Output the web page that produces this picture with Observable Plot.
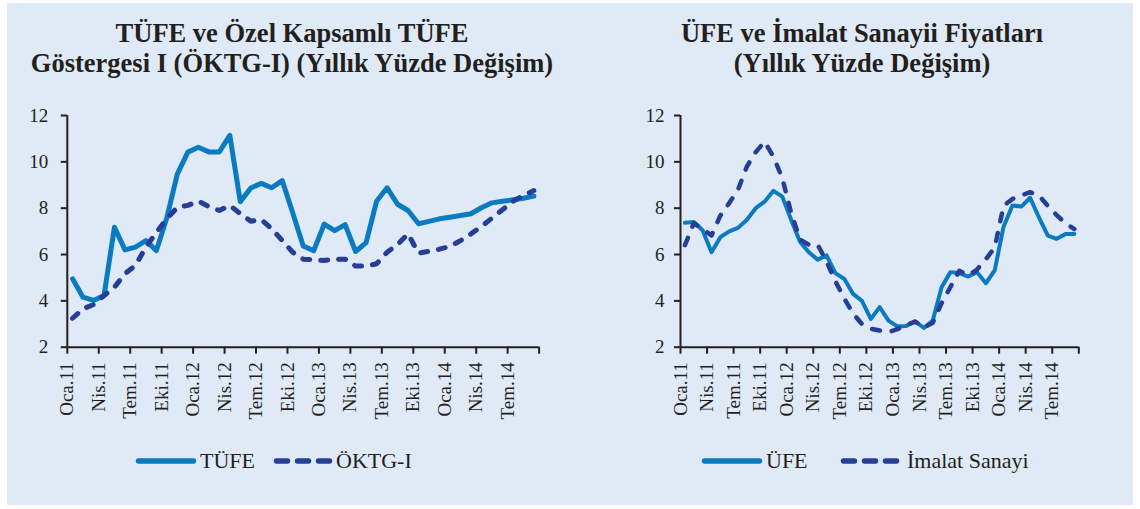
<!DOCTYPE html>
<html><head><meta charset="utf-8">
<script src="https://cdn.jsdelivr.net/npm/d3@7"></script>
<script src="https://cdn.jsdelivr.net/npm/@observablehq/plot@0.6"></script>
<style>
body{margin:0;background:#fff;width:1140px;height:509px;position:relative;overflow:hidden;font-family:"Liberation Serif",serif;color:#231f20}
#panel{position:absolute;left:7px;top:3px;width:1126px;height:502px;background:#dfeaf6}
.title{position:absolute;top:18px;font-weight:bold;font-size:26.5px;line-height:30px;text-align:center;white-space:nowrap}
.chart{position:absolute;top:100px}
.lg{position:absolute;top:450px;font-size:22px;line-height:22px;white-space:nowrap}
#legendsvg{position:absolute;left:0;top:0}
</style></head><body>
<div id="panel"></div>
<div class="title" style="left:0;width:584px">TÜFE ve Özel Kapsamlı TÜFE<br>Göstergesi I (ÖKTG-I) (Yıllık Yüzde Değişim)</div>
<div class="title" style="left:562px;width:600px">ÜFE ve İmalat Sanayii Fiyatları<br>(Yıllık Yüzde Değişim)</div>
<div id="c1" class="chart" style="left:0"></div>
<div id="c2" class="chart" style="left:600px"></div>
<svg id="legendsvg" width="1140" height="509"></svg>
<span class="lg" style="left:200px">TÜFE</span>
<span class="lg" style="left:336px">ÖKTG-I</span>
<span class="lg" style="left:766px">ÜFE</span>
<span class="lg" style="left:907px">İmalat Sanayi</span>
<script>
const months = ["Oca.11","Şub.11","Mar.11","Nis.11","May.11","Haz.11","Tem.11","Ağu.11","Eyl.11","Eki.11","Kas.11","Ara.11",
"Oca.12","Şub.12","Mar.12","Nis.12","May.12","Haz.12","Tem.12","Ağu.12","Eyl.12","Eki.12","Kas.12","Ara.12",
"Oca.13","Şub.13","Mar.13","Nis.13","May.13","Haz.13","Tem.13","Ağu.13","Eyl.13","Eki.13","Kas.13","Ara.13",
"Oca.14","Şub.14","Mar.14","Nis.14","May.14","Haz.14","Tem.14","Ağu.14","Eyl.14"];
const yTicks = [2,4,6,8,10,12];
const tufe = [4.95,4.16,4.02,4.23,7.18,6.2,6.32,6.6,6.17,7.6,9.48,10.42,10.63,10.43,10.43,11.14,8.28,8.87,9.07,8.88,9.19,7.8,6.37,6.16,7.31,7.03,7.29,6.13,6.51,8.3,8.88,8.17,7.9,7.33,7.43,7.54,7.61,7.68,7.76,8.02,8.23,8.3,8.36,8.43,8.52];
const oktg = [3.25,3.66,3.84,4.23,4.59,5.17,5.53,6.32,6.96,7.54,8.04,8.12,8.3,8.07,7.9,8.12,7.76,7.44,7.51,7.11,6.6,6.1,5.8,5.77,5.74,5.8,5.8,5.5,5.5,5.6,6.1,6.43,6.89,6.06,6.14,6.23,6.35,6.6,6.89,7.21,7.57,7.93,8.29,8.55,8.76];
const ufe = [7.37,7.4,7.05,6.1,6.75,7.0,7.15,7.5,8.0,8.28,8.75,8.5,7.5,6.55,6.1,5.78,5.96,5.2,4.95,4.3,4.0,3.22,3.73,3.15,2.9,2.92,3.12,2.83,3.15,4.59,5.24,5.2,5.05,5.24,4.76,5.32,7.2,8.12,8.07,8.45,7.6,6.82,6.68,6.89,6.89];
const imalat = [6.4,7.35,7.1,6.82,7.68,8.22,8.8,9.8,10.42,10.87,10.22,9.3,7.8,6.65,6.42,6.42,5.7,4.85,4.1,3.45,3.0,2.8,2.72,2.65,2.78,2.95,3.1,2.85,3.05,3.9,4.6,5.3,5.1,5.35,5.8,6.3,8.1,8.4,8.55,8.69,8.55,8.1,7.7,7.35,7.1];

const lightBlue = "#0a7bc1", navy = "#263e96", ink = "#231f20";

function chart({width, marginLeft, marginRight, padY, solid, dashed, solidW, dashW, dash}) {
  return Plot.plot({
    width, height: 330,
    marginLeft, marginRight, marginTop: 15, marginBottom: 83.3,
    style: {background: "transparent", fontFamily: "Liberation Serif, serif", fontSize: "19px", color: ink, overflow: "visible"},
    x: {domain: [0, months.length]},
    y: {domain: [2, 12]},
    marks: [
      Plot.axisY({ticks: yTicks, tickSize: 6, tickPadding: padY, tickFormat: d => String(d), label: null, strokeWidth: 2}),
      Plot.axisX({ticks: d3.range(0, months.length + 1, 3), tickSize: 7, tickPadding: 8, tickRotate: -90,
        tickFormat: t => months[t] ?? "", label: null, strokeWidth: 2}),
      Plot.ruleX([0], {stroke: ink, strokeWidth: 2}),
      Plot.ruleY([2], {stroke: ink, strokeWidth: 2}),
      Plot.lineY(solid, {x: (d, i) => i + 0.5, y: d => d, stroke: lightBlue, strokeWidth: solidW, strokeLinejoin: "round", strokeLinecap: "round"}),
      Plot.lineY(dashed, {x: (d, i) => i + 0.5, y: d => d, stroke: navy, strokeWidth: dashW, strokeDasharray: dash, strokeLinejoin: "round", strokeLinecap: "round"})
    ]
  });
}

document.getElementById("c1").append(chart({width: 570, marginLeft: 66.8, marginRight: 31.4, padY: 13, solid: tufe, dashed: oktg, solidW: 5, dashW: 5, dash: "7,11"}));
document.getElementById("c2").append(chart({width: 520, marginLeft: 80, marginRight: 41.7, padY: 10, solid: ufe, dashed: imalat, solidW: 4, dashW: 4.5, dash: "8,12"}));

// legend samples
const lg = d3.select("#legendsvg");
const samples = [
  {x1: 138.5, x2: 193.5, c: lightBlue, d: null},
  {x1: 276.5, x2: 331.5, c: navy, d: "11,10"},
  {x1: 704.5, x2: 759.5, c: lightBlue, d: null},
  {x1: 843.5, x2: 896.5, c: navy, d: "11,10"}
];
for (const s of samples) {
  lg.append("line").attr("x1", s.x1).attr("x2", s.x2).attr("y1", 461).attr("y2", 461)
    .attr("stroke", s.c).attr("stroke-width", 5.5).attr("stroke-linecap", "round")
    .attr("stroke-dasharray", s.d);
}
</script>
</body></html>
